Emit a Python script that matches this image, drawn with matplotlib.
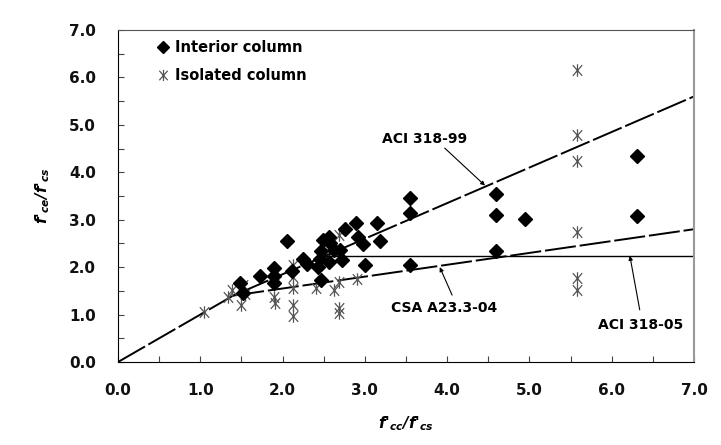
import matplotlib
matplotlib.use("Agg")
import matplotlib.pyplot as plt
from matplotlib.path import Path
from matplotlib.lines import Line2D

plt.rcParams['font.family'] = ['DejaVu Sans']
plt.rcParams['mathtext.fontset'] = 'custom'
plt.rcParams['mathtext.it'] = 'DejaVu Sans:bold:italic'
plt.rcParams['mathtext.rm'] = 'DejaVu Sans:bold'

# ---- data ----
interior_x = [1.48, 1.52, 1.73, 1.89, 1.90, 1.90, 2.05, 2.11, 2.25, 2.30, 2.43, 2.45,
              2.47, 2.49, 2.56, 2.58, 2.56, 2.62, 2.70, 2.72, 2.47, 2.76, 2.89, 2.92,
              2.98, 3.00, 3.15, 3.18, 3.55, 3.55, 3.55, 4.59, 4.59, 4.59, 4.94, 6.31, 6.31]
interior_y = [1.67, 1.45, 1.81, 1.98, 1.81, 1.66, 2.56, 1.91, 2.17, 2.07, 2.01, 2.17,
              2.33, 2.57, 2.64, 2.50, 2.10, 2.36, 2.36, 2.15, 1.73, 2.80, 2.94, 2.64,
              2.49, 2.05, 2.94, 2.56, 3.45, 3.14, 2.05, 3.54, 3.09, 2.35, 3.02, 4.35, 3.07]

isolated_x = [1.04, 1.34, 1.38, 1.50, 1.52, 1.54, 1.89, 1.91, 2.13, 2.13, 2.13, 2.13, 2.13,
              2.41, 2.62, 2.68, 2.68, 2.68, 2.68, 2.90, 5.58, 5.58, 5.58, 5.58, 5.58, 5.58]
isolated_y = [1.06, 1.38, 1.52, 1.20, 1.62, 1.43, 1.38, 1.24, 2.05, 1.80, 1.55, 1.20, 0.96,
              1.55, 1.52, 1.69, 1.13, 1.03, 2.68, 1.74, 6.16, 4.79, 4.24, 2.75, 1.77, 1.52]

aci99_x = [0.0, 1.4, 7.0]
aci99_y = [0.0, 1.4, 5.6]
csa_x = [1.4, 7.0]
csa_y = [1.4, 2.8]
aci05_x = [2.5, 7.0]
aci05_y = [2.23, 2.23]

ticks = [0, 1, 2, 3, 4, 5, 6, 7]
tick_labels = ["0.0", "1.0", "2.0", "3.0", "4.0", "5.0", "6.0", "7.0"]

# ---- figure ----
fig = plt.figure(figsize=(7.21, 4.45), dpi=100)
ax = fig.add_axes([0.1637, 0.1865, 0.9626 - 0.1637, 0.9326 - 0.1865])

star = Path([(0, -1), (0, 1), (-0.75, -0.85), (0.75, 0.85), (-0.75, 0.85), (0.75, -0.85)],
            [Path.MOVETO, Path.LINETO, Path.MOVETO, Path.LINETO, Path.MOVETO, Path.LINETO])

ax.plot(aci99_x, aci99_y, color='black', lw=1.4, dashes=(16, 2), zorder=2)
ax.plot(csa_x, csa_y, color='black', lw=1.4, dashes=(16, 2), zorder=2)
ax.plot(aci05_x, aci05_y, color='black', lw=1.0, zorder=2)

ax.plot(isolated_x, isolated_y, linestyle='none', marker=star, ms=9,
        markeredgecolor='#555555', markerfacecolor='none', mew=0.9, zorder=3)
ax.plot(interior_x, interior_y, linestyle='none', marker='D', ms=6.8,
        color='black', zorder=4)

ax.set_xlim(0, 7)
ax.set_ylim(0, 7)
ax.set_xticks(ticks)
ax.set_xticklabels(tick_labels)
ax.set_yticks(ticks)
ax.set_yticklabels(tick_labels)
ax.set_xticks([t + 0.5 for t in ticks[:-1]], minor=True)
ax.set_yticks([t + 0.5 for t in ticks[:-1]], minor=True)
ax.tick_params(which='both', direction='in', length=4, width=0.8, color='#444444')
ax.tick_params(axis='x', which='major', pad=15, labelsize=11)
ax.tick_params(axis='y', which='major', pad=16, labelsize=11)
for lbl in ax.get_xticklabels() + ax.get_yticklabels():
    lbl.set_fontweight('bold')
    lbl.set_color('#111111')

ax.spines['left'].set_color('black')
ax.spines['bottom'].set_color('black')
ax.spines['top'].set_color('#555555')
ax.spines['right'].set_color('#999999')
ax.spines['right'].set_linewidth(1.5)

ax.set_xlabel("f'$_{cc}$/f'$_{cs}$", fontsize=11, fontweight='bold', fontstyle='italic', labelpad=12)
ax.set_ylabel("f'$_{ce}$/f'$_{cs}$", fontsize=11, fontweight='bold', fontstyle='italic', labelpad=12)

handles = [Line2D([], [], linestyle='none', marker='D', ms=6, color='black'),
           Line2D([], [], linestyle='none', marker=star, ms=8, markeredgecolor='#555555',
                  markerfacecolor='none', mew=0.9)]
leg = ax.legend(handles, ["Interior column", "Isolated column"], loc='upper left',
                bbox_to_anchor=(0.045, 1.008), frameon=False, handlelength=0.8,
                handletextpad=0.4, labelspacing=0.85, prop={'weight': 'bold', 'size': 10.5})

ann = dict(fontsize=10, fontweight='bold', ha='center', va='center')
arr = dict(arrowstyle='-|>', lw=0.8, color='black', mutation_scale=6, shrinkA=0, shrinkB=0)
ax.text(3.73, 4.70, "ACI 318-99", **ann)
ax.annotate("", xy=(4.46, 3.72), xytext=(3.97, 4.51), arrowprops=arr)
ax.text(3.96, 1.14, "CSA A23.3-04", **ann)
ax.annotate("", xy=(3.91, 2.00), xytext=(4.06, 1.41), arrowprops=arr)
ax.text(6.35, 0.78, "ACI 318-05", **ann)
ax.annotate("", xy=(6.22, 2.24), xytext=(6.34, 1.10), arrowprops=arr)

fig.savefig("out.png", dpi=100)
